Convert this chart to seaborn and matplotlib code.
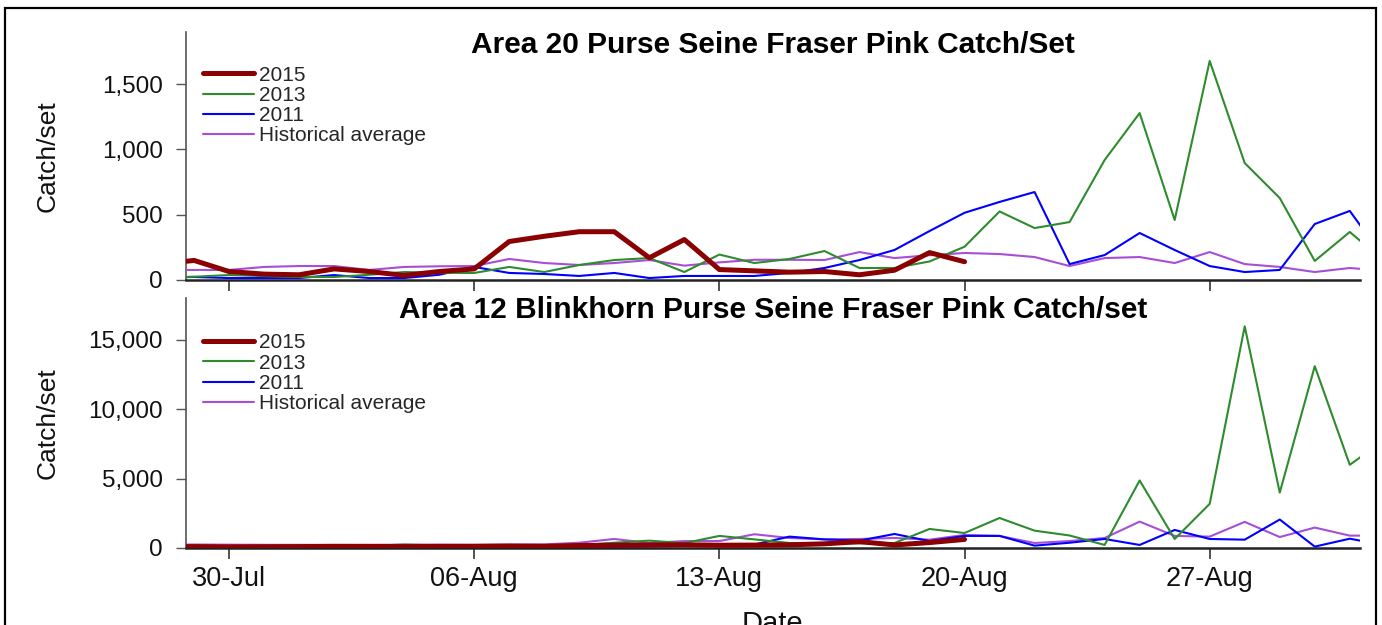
import pandas as pd
import numpy as np
import matplotlib
matplotlib.use('Agg')
import matplotlib.pyplot as plt
import matplotlib.dates as mdates
from matplotlib.ticker import FuncFormatter
from matplotlib.patches import Rectangle
import seaborn as sns

# 日期：7月28日 ~ 9月1日，每天一个点
dates = pd.date_range('2015-07-28', '2015-09-01', freq='D')

series_names = ['2015', '2013', '2011', 'Historical average']
series_colors = ['#8b0000', '#2e8b2e', '#0000ff', '#a64fd6']
series_widths = [3.6, 1.5, 1.5, 1.5]

# Area 20 (上图)
a20_2015 = [120, 150, 65, 45,
            40, 85, 65, 35, 65, 85, 295, 335, 370, 370, 170, 310, 80, 70, 60, 65, 40, 75, 210, 140]
a20_2013 = [20, 25, 38, 30,
            23, 23, 40, 61, 55, 54, 100, 61, 115, 153, 168, 61, 195, 130, 161, 222, 92, 92, 142, 255,
            525, 398, 444, 919, 1279, 460, 1678, 896, 628, 146, 368,
            140]
a20_2011 = [20, 23, 15, 15,
            15, 38, 15, 15, 40, 100, 54, 46, 31, 54, 15, 31, 31, 31, 54, 92, 153, 230, 375, 515,
            598, 674, 122, 191, 360, 230, 107, 61, 77, 429, 529,
            160]
a20_hist = [77, 77, 77, 100,
            107, 107, 77, 100, 105, 107, 161, 130, 115, 130, 153, 110, 135, 155, 155, 153, 214, 168, 190, 207,
            199, 176, 107, 168, 176, 130, 214, 122, 100, 61, 92,
            70]

# Area 12 Blinkhorn (下图)
a12_2015 = [100, 100, 80, 90,
            100, 120, 110, 100, 110, 120, 140, 120, 180, 200, 220, 230, 200, 210, 230, 300, 460, 220, 390, 620]
a12_2013 = [50, 50, 60, 70,
            80, 90, 150, 250, 180, 120, 100, 150, 200, 380, 530, 350, 870, 620, 360, 350, 330, 360, 1370, 1080,
            2160, 1250, 900, 220, 4860, 650, 3180, 15960, 3990, 13090, 5990,
            7800]
a12_2011 = [50, 50, 40, 30,
            30, 40, 40, 50, 50, 60, 60, 50, 80, 100, 120, 150, 170, 250, 820, 620, 530, 1010, 500, 870,
            870, 170, 380, 650, 220, 1300, 650, 600, 2050, 100, 670,
            200]
a12_hist = [250, 250, 240, 230,
            230, 220, 230, 240, 250, 230, 250, 260, 380, 650, 360, 500, 500, 990, 720, 620, 650, 720, 600, 940,
            870, 360, 500, 720, 1900, 870, 820, 1880, 790, 1470, 890,
            900]

panels = [
    ('Area 20 Purse Seine Fraser Pink Catch/Set', [a20_2015, a20_2013, a20_2011, a20_hist],
     [0, 500, 1000, 1500], 1900),
    ('Area 12 Blinkhorn Purse Seine Fraser Pink Catch/set', [a12_2015, a12_2013, a12_2011, a12_hist],
     [0, 5000, 10000, 15000], 18000),
]

sns.set_theme(style='white')
plt.rcParams['font.family'] = ['Liberation Sans', 'DejaVu Sans']

fig = plt.figure(figsize=(13.82, 6.25), dpi=100)
W, H = 1382, 625
ax_top = fig.add_axes([186 / W, 1 - 280 / H, (1360 - 186) / W, (280 - 32) / H])
ax_bot = fig.add_axes([186 / W, 1 - 548 / H, (1360 - 186) / W, (548 - 298) / H], sharex=ax_top)

xmin = pd.Timestamp('2015-07-28') + pd.Timedelta(hours=18.5)
xmax = pd.Timestamp('2015-08-31') + pd.Timedelta(hours=7)

for ax, (title, data, yticks, ytop) in zip([ax_top, ax_bot], panels):
    # 先画历史均值，最后画2015，使红线在最上层
    for i in [3, 2, 1, 0]:
        vals = data[i]
        sns.lineplot(x=dates[:len(vals)], y=vals, ax=ax, color=series_colors[i],
                     lw=series_widths[i], label=series_names[i], zorder=3 + (3 - i))
    handles, labels = ax.get_legend_handles_labels()
    order = [labels.index(n) for n in series_names]
    leg_y = 0.864 if ax is ax_top else 0.858
    ax.legend([handles[k] for k in order], series_names, loc='upper left',
              bbox_to_anchor=(0.0145, leg_y), frameon=False, fontsize=15,
              handlelength=2.45, handletextpad=0.25, labelspacing=0.06,
              borderpad=0, borderaxespad=0)

    ax.set_ylim(0, ytop)
    ax.set_yticks(yticks)
    ax.yaxis.set_major_formatter(FuncFormatter(lambda v, p: f'{v:,.0f}'))
    ax.set_xlim(xmin, xmax)
    ax.xaxis.set_major_locator(mdates.WeekdayLocator(byweekday=mdates.TH))
    ax.xaxis.set_major_formatter(mdates.DateFormatter('%d-%b'))

    ax.text(0.5, 0.946 if ax is ax_top else 0.95, title, transform=ax.transAxes,
            ha='center', va='center', fontsize=21.5, fontweight='bold', color='black')
    ax.set_ylabel('Catch/set', fontsize=19, color='#111')
    ax.yaxis.set_label_coords(-0.108, 0.5)
    ax.set_xlabel('')

    for s in ['top', 'right']:
        ax.spines[s].set_visible(False)
    ax.spines['left'].set_color('#555')
    ax.spines['left'].set_linewidth(1.2)
    ax.spines['bottom'].set_color('#222')
    ax.spines['bottom'].set_linewidth(1.8)
    ax.tick_params(axis='y', direction='out', length=7, width=1, color='#555',
                   labelsize=17.5, labelcolor='#111', pad=9.5, left=True)
    ax.tick_params(axis='x', direction='out', length=8, width=1.2, color='#333',
                   labelsize=19.5, labelcolor='#111', pad=5, bottom=True)
    ax.grid(False)

ax_top.tick_params(axis='x', labelbottom=False)

# x 轴标题（原图底部被截断）
fig.text(772 / W, 1 - 610 / H, 'Date', ha='center', va='top', fontsize=21, color='#111')

# 外框
fig.patches.append(Rectangle((5 / W, -0.1), (1376 - 5) / W, 1.1 - 8 / H,
                             transform=fig.transFigure, fill=False,
                             edgecolor='black', linewidth=1.6))

fig.savefig('out.png', dpi=100)
